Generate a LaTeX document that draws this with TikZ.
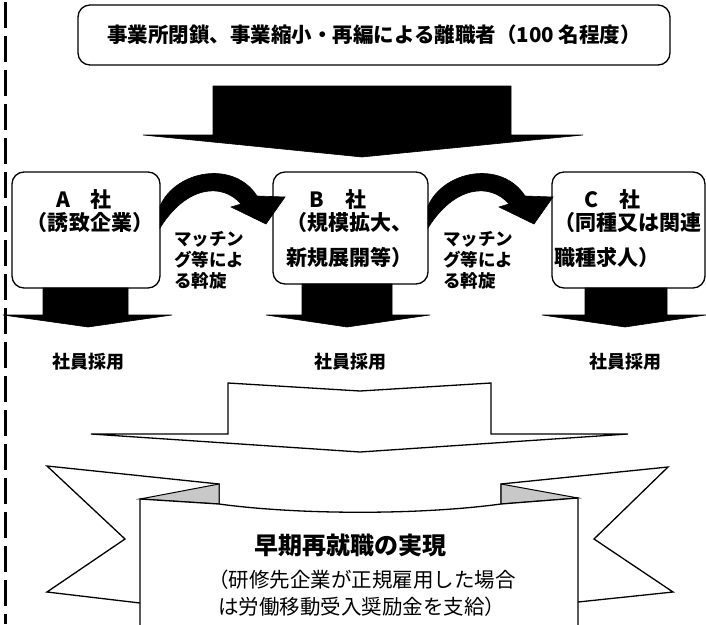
\documentclass[tikz,border=0pt]{standalone}
\usepackage{fontspec}
\setmainfont{Noto Sans CJK JP}
\usetikzlibrary{positioning,calc}
\definecolor{ink}{RGB}{0,0,0}
\definecolor{foldgray}{RGB}{200,200,200}
\tikzset{
  firm/.style={draw=ink,line width=1.3pt,rounded corners=12pt,inner sep=0pt},
  solidarrow/.style={fill=ink,draw=ink,line width=0.6pt,line join=miter},
  hollow/.style={draw=ink,fill=white,line width=1.3pt,line join=miter},
  firmtext/.style={font=\bfseries\fontsize{21}{25}\selectfont,inner sep=0pt},
  hiretext/.style={font=\bfseries\fontsize{18}{21}\selectfont,inner sep=0pt},
  matchtext/.style={font=\bfseries\fontsize{17.5}{21}\selectfont,align=left,anchor=north west,inner sep=0pt},
}
\begin{document}
\begin{tikzpicture}[x=1pt,y=-1pt]
  \useasboundingbox (0,0) rectangle (706,624);
  \clip (0,0) rectangle (706,624);
  \draw[line width=3pt,dash pattern=on 26pt off 8pt] (5,2) -- (5,624);

  \node[firm,minimum width=592pt,minimum height=60pt] (leavers) at (374,35)
    {\bfseries\fontsize{20.5}{24}\selectfont 事業所閉鎖、事業縮小・再編による離職者（100 名程度）};
  \fill[solidarrow] (213,86) -- (511,86) -- (511,135) -- (583,135) -- (362,157) -- (143,135) -- (213,135) -- cycle;

  \node[firm,minimum width=148pt,minimum height=116pt] (firmA) at (86,230) {};
  \node[firm,minimum width=155pt,minimum height=112pt] (firmB) at (350.5,228) {};
  \node[firm,minimum width=153pt,minimum height=116pt] (firmC) at (628.5,230) {};
  \node[firmtext] (nameA) at (84,200) {A　社};
  \node[firmtext] (kindA) at (90,223) {（誘致企業）};
  \node[firmtext] (nameB) at (338,200) {B　社};
  \node[firmtext] (kindB) at (349,223) {（規模拡大、};
  \node[firmtext] (kindB2) at (349,257) {新規展開等）};
  \node[firmtext] (nameC) at (612,200) {C　社};
  \node[firmtext,anchor=west] (kindC) at (554,223) {（同種又は関連};
  \node[firmtext,anchor=west] (kindC2) at (554,257) {職種求人）};

  \fill[solidarrow] (160,206) .. controls (176,170) and (234,160) .. (257,196) -- (285,197) -- (266,224) -- (231,207) -- (241,204) .. controls (222,182) and (186,186) .. (160,228) -- cycle;
  \fill[solidarrow] (428,206) .. controls (444,170) and (502,160) .. (525,196) -- (553,197) -- (534,224) -- (499,207) -- (509,204) .. controls (490,182) and (454,186) .. (428,228) -- cycle;
  \node[matchtext] (matchAB) at (174,231) {マッチン\\グ等によ\\る斡旋};
  \node[matchtext] (matchBC) at (443,231) {マッチン\\グ等によ\\る斡旋};

  \fill[solidarrow] (43,288) -- (128,288) -- (128,315) -- (172,315) -- (88,327) -- (3,315) -- (43,315) -- cycle;
  \fill[solidarrow] (302,284) -- (392,284) -- (392,315) -- (430,315) -- (347,327) -- (266,315) -- (302,315) -- cycle;
  \fill[solidarrow] (585,288) -- (667,288) -- (667,315) -- (706,315) -- (625,327) -- (542,315) -- (585,315) -- cycle;
  \node[hiretext] (hireA) at (88,362) {社員採用};
  \node[hiretext] (hireB) at (350,362) {社員採用};
  \node[hiretext] (hireC) at (625,362) {社員採用};

  \draw[hollow] (228,383) -- (360,391) -- (491,383) -- (491,434) -- (628,434) -- (360,452) -- (91,434) -- (228,434) -- cycle;

  \draw[hollow] (219,504) -- (219,484) -- (47,466) -- (125,539) -- (47,592) -- (140,603);
  \draw[hollow] (501,504) -- (501,484) -- (668,467) -- (594,539) -- (673,592) -- (578,602);
  \filldraw[draw=ink,fill=foldgray,line width=1pt] (140,499) -- (219,484) -- (219,504) -- cycle;
  \filldraw[draw=ink,fill=foldgray,line width=1pt] (578,498) -- (501,484) -- (501,504) -- cycle;
  \draw[hollow] (140,640) -- (140,499) -- (219,504) .. controls (300,515) and (420,515) .. (501,504) -- (578,498) -- (578,640);
  \node[font=\bfseries\fontsize{24}{28}\selectfont,inner sep=0pt] (goal) at (350,545) {早期再就職の実現};
  \node[font=\fontsize{20.5}{27}\selectfont,align=left,anchor=north west,inner sep=0pt] (goalnote) at (208,570)
    {（研修先企業が正規雇用した場合\\\hspace*{0.5em}は労働移動受入奨励金を支給）};
\end{tikzpicture}
\end{document}
